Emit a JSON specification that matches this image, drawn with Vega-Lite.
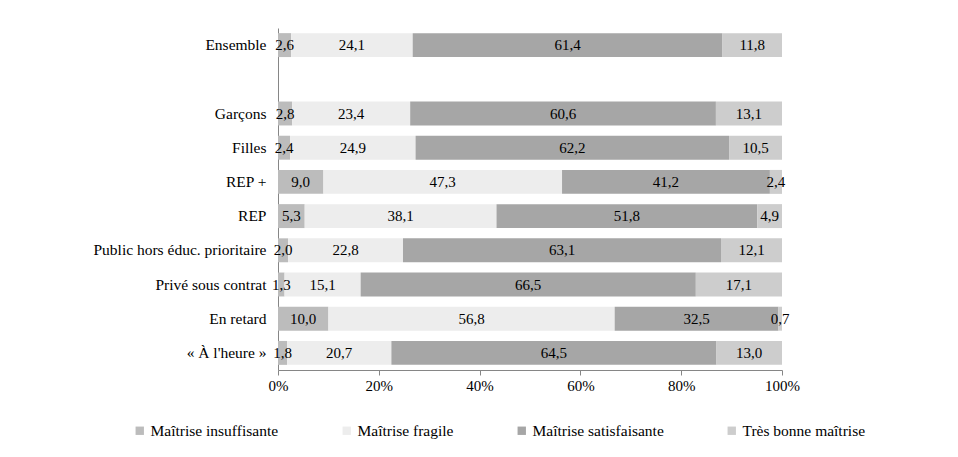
{
  "$schema": "https://vega.github.io/schema/vega-lite/v6.json",
  "width": 504,
  "height": 342,
  "autosize": {"type": "none"},
  "padding": {"left": 278, "top": 28, "right": 176, "bottom": 87},
  "background": "white",
  "config": {
    "locale": {"number": {"decimal": ",", "thousands": " ", "grouping": [3], "currency": ["", " €"]}},
    "font": "Liberation Serif",
    "axis": {"labelFont": "Liberation Serif"},
    "legend": {"labelFont": "Liberation Serif"},
    "text": {"font": "Liberation Serif"},
    "view": {"stroke": null}
  },
  "data": {"values": [
    {"cat": "Ensemble", "niveau": "Maîtrise insuffisante", "ord": 1, "v": 2.6},
    {"cat": "Ensemble", "niveau": "Maîtrise fragile", "ord": 2, "v": 24.1},
    {"cat": "Ensemble", "niveau": "Maîtrise satisfaisante", "ord": 3, "v": 61.4},
    {"cat": "Ensemble", "niveau": "Très bonne maîtrise", "ord": 4, "v": 11.8},
    {"cat": "Garçons", "niveau": "Maîtrise insuffisante", "ord": 1, "v": 2.8},
    {"cat": "Garçons", "niveau": "Maîtrise fragile", "ord": 2, "v": 23.4},
    {"cat": "Garçons", "niveau": "Maîtrise satisfaisante", "ord": 3, "v": 60.6},
    {"cat": "Garçons", "niveau": "Très bonne maîtrise", "ord": 4, "v": 13.1},
    {"cat": "Filles", "niveau": "Maîtrise insuffisante", "ord": 1, "v": 2.4},
    {"cat": "Filles", "niveau": "Maîtrise fragile", "ord": 2, "v": 24.9},
    {"cat": "Filles", "niveau": "Maîtrise satisfaisante", "ord": 3, "v": 62.2},
    {"cat": "Filles", "niveau": "Très bonne maîtrise", "ord": 4, "v": 10.5},
    {"cat": "REP +", "niveau": "Maîtrise insuffisante", "ord": 1, "v": 9.0},
    {"cat": "REP +", "niveau": "Maîtrise fragile", "ord": 2, "v": 47.3},
    {"cat": "REP +", "niveau": "Maîtrise satisfaisante", "ord": 3, "v": 41.2},
    {"cat": "REP +", "niveau": "Très bonne maîtrise", "ord": 4, "v": 2.4},
    {"cat": "REP", "niveau": "Maîtrise insuffisante", "ord": 1, "v": 5.3},
    {"cat": "REP", "niveau": "Maîtrise fragile", "ord": 2, "v": 38.1},
    {"cat": "REP", "niveau": "Maîtrise satisfaisante", "ord": 3, "v": 51.8},
    {"cat": "REP", "niveau": "Très bonne maîtrise", "ord": 4, "v": 4.9},
    {"cat": "Public hors éduc. prioritaire", "niveau": "Maîtrise insuffisante", "ord": 1, "v": 2.0},
    {"cat": "Public hors éduc. prioritaire", "niveau": "Maîtrise fragile", "ord": 2, "v": 22.8},
    {"cat": "Public hors éduc. prioritaire", "niveau": "Maîtrise satisfaisante", "ord": 3, "v": 63.1},
    {"cat": "Public hors éduc. prioritaire", "niveau": "Très bonne maîtrise", "ord": 4, "v": 12.1},
    {"cat": "Privé sous contrat", "niveau": "Maîtrise insuffisante", "ord": 1, "v": 1.3},
    {"cat": "Privé sous contrat", "niveau": "Maîtrise fragile", "ord": 2, "v": 15.1},
    {"cat": "Privé sous contrat", "niveau": "Maîtrise satisfaisante", "ord": 3, "v": 66.5},
    {"cat": "Privé sous contrat", "niveau": "Très bonne maîtrise", "ord": 4, "v": 17.1},
    {"cat": "En retard", "niveau": "Maîtrise insuffisante", "ord": 1, "v": 10.0},
    {"cat": "En retard", "niveau": "Maîtrise fragile", "ord": 2, "v": 56.8},
    {"cat": "En retard", "niveau": "Maîtrise satisfaisante", "ord": 3, "v": 32.5},
    {"cat": "En retard", "niveau": "Très bonne maîtrise", "ord": 4, "v": 0.7},
    {"cat": "« À l'heure »", "niveau": "Maîtrise insuffisante", "ord": 1, "v": 1.8},
    {"cat": "« À l'heure »", "niveau": "Maîtrise fragile", "ord": 2, "v": 20.7},
    {"cat": "« À l'heure »", "niveau": "Maîtrise satisfaisante", "ord": 3, "v": 64.5},
    {"cat": "« À l'heure »", "niveau": "Très bonne maîtrise", "ord": 4, "v": 13.0}
  ]},
  "transform": [
    {"stack": "v", "groupby": ["cat"], "sort": [{"field": "ord"}], "offset": "normalize", "as": ["s", "e"]},
    {"calculate": "(datum.s + datum.e) / 2", "as": "mid"}
  ],
  "encoding": {
    "y": {
      "field": "cat", "type": "nominal", "title": null,
      "scale": {"domain": ["Ensemble", " ", "Garçons", "Filles", "REP +", "REP", "Public hors éduc. prioritaire", "Privé sous contrat", "En retard", "« À l'heure »"], "paddingInner": 0.3, "paddingOuter": 0.15},
      "axis": {"domainColor": "#868686", "ticks": false, "labelFontSize": 15.5, "labelColor": "#000", "labelPadding": 12, "labelLimit": 300}
    }
  },
  "layer": [
    {
      "mark": {"type": "bar"},
      "encoding": {
        "x": {"field": "s", "type": "quantitative", "scale": {"domain": [0, 1], "nice": false}, "title": null,
          "axis": {"format": ".0%", "values": [0, 0.2, 0.4, 0.6, 0.8, 1], "grid": false, "labelFlush": false, "domainColor": "#868686", "tickColor": "#868686", "tickSize": 5, "labelFontSize": 15, "labelColor": "#000", "labelPadding": 3}},
        "x2": {"field": "e"},
        "color": {
          "field": "niveau", "type": "nominal",
          "scale": {"domain": ["Maîtrise insuffisante", "Maîtrise fragile", "Maîtrise satisfaisante", "Très bonne maîtrise"], "range": ["#bcbcbc", "#ededed", "#a6a6a6", "#cdcdcd"]},
          "legend": {"title": null, "orient": "none", "legendX": -146, "legendY": 395, "direction": "horizontal", "columns": 4, "columnPadding": 60, "gridAlign": "none", "symbolType": "square", "symbolSize": 70, "symbolStrokeWidth": 0, "labelFontSize": 15.5, "labelColor": "#000", "labelOffset": 3, "labelLimit": 300}
        }
      }
    },
    {
      "mark": {"type": "text", "fontSize": 15, "color": "#000", "font": "Liberation Serif"},
      "encoding": {
        "x": {"field": "mid", "type": "quantitative"},
        "text": {"field": "v", "type": "quantitative", "format": ".1f"}
      }
    }
  ]
}
